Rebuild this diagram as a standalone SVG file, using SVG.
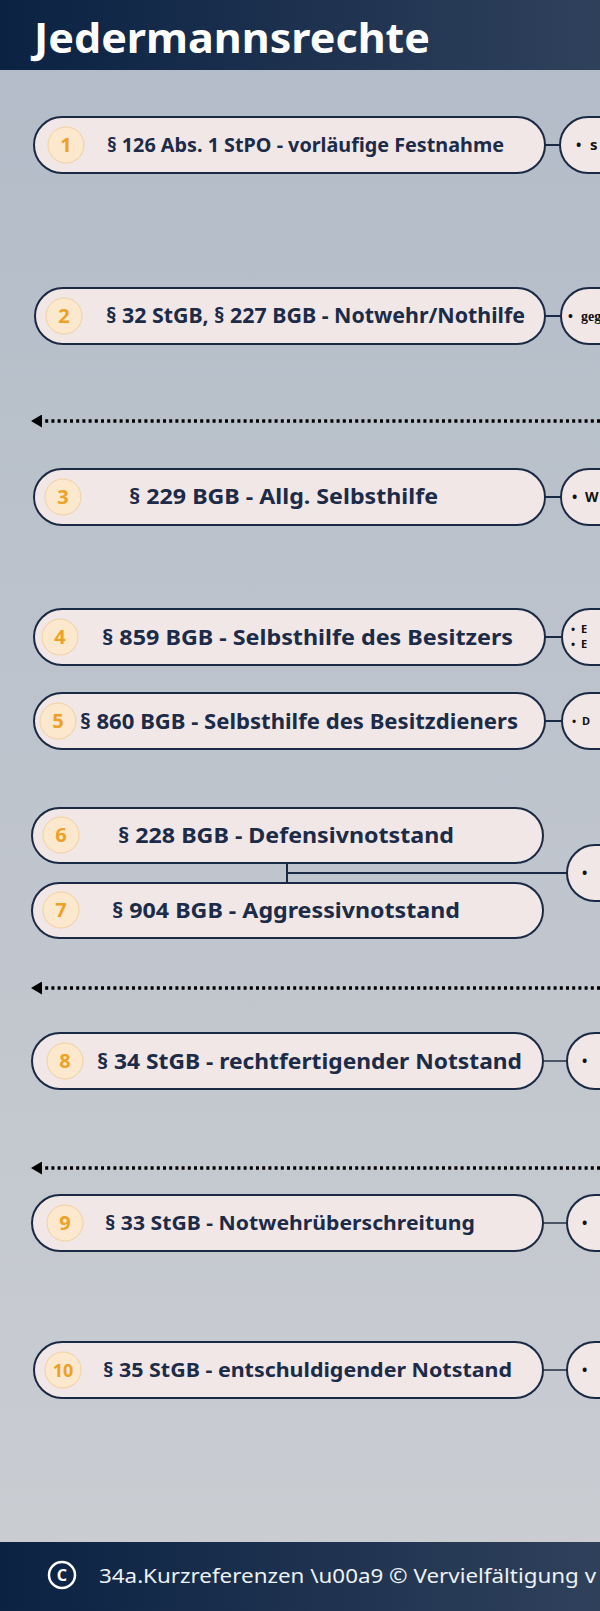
<svg xmlns="http://www.w3.org/2000/svg" width="600" height="1611" viewBox="0 0 600 1611">
<defs>
<linearGradient id="bg" x1="0" y1="0" x2="0" y2="1">
<stop offset="0" stop-color="#b2bcc8"/>
<stop offset="1" stop-color="#cbcdd2"/>
</linearGradient>
<linearGradient id="bar" x1="0" y1="0" x2="1" y2="0">
<stop offset="0" stop-color="#0b2243"/>
<stop offset="1" stop-color="#2f415b"/>
</linearGradient>
<marker id="ah" viewBox="0 0 11 13" refX="0" refY="6.5" markerWidth="11" markerHeight="13" markerUnits="userSpaceOnUse" orient="auto">
<path d="M0,0 L11,6.5 L0,13 Z" fill="#000"/>
</marker>
<style>
.pill{fill:#f1e7e7;stroke:#1a2a44;stroke-width:2}
.nc{fill:#fce8cc;stroke:#f2d09e;stroke-width:1}
.num{font-family:"Noto Sans","Liberation Sans",sans-serif;font-weight:700;font-size:20px;fill:#eda126;text-anchor:middle}
.lbl{font-family:"Noto Sans","Liberation Sans",sans-serif;font-weight:700;font-size:21px;fill:#1b2b48}
.bt{font-family:"Noto Sans","Liberation Sans",sans-serif;font-weight:700;font-size:14px;fill:#111}
.con{stroke:#1a2a44;stroke-width:2;fill:none}
.con2{stroke:#4a5566;stroke-width:2;fill:none}
.dot{stroke:#000;stroke-width:3.5;stroke-dasharray:3 3.2;fill:none}
</style>
</defs>
<rect x="0" y="0" width="600" height="1611" fill="url(#bg)"/>
<g id="header">
<rect x="0" y="0" width="600" height="70" fill="url(#bar)"/>
<text x="34" y="53" font-family="Noto Sans, Liberation Sans, sans-serif" font-weight="700" font-size="42" fill="#fff" textLength="396" lengthAdjust="spacingAndGlyphs">Jedermannsrechte</text>
</g>
<g id="connectors">
<line class="con" x1="545" y1="145" x2="560" y2="145"/>
<line class="con" x1="545" y1="316" x2="561" y2="316"/>
<line class="con" x1="545" y1="497" x2="561" y2="497"/>
<line class="con" x1="545" y1="637" x2="562" y2="637"/>
<line class="con" x1="545" y1="721" x2="562" y2="721"/>
<line class="con" x1="287" y1="863" x2="287" y2="883"/>
<line class="con" x1="287" y1="873" x2="567" y2="873"/>
<line class="con2" x1="543" y1="1061" x2="567" y2="1061"/>
<line class="con2" x1="543" y1="1223" x2="567" y2="1223"/>
<line class="con2" x1="543" y1="1370" x2="567" y2="1370"/>
<line class="dot" x1="600" y1="421" x2="42" y2="421" marker-end="url(#ah)"/>
<line class="dot" x1="600" y1="988" x2="42" y2="988" marker-end="url(#ah)"/>
<line class="dot" x1="600" y1="1168" x2="42" y2="1168" marker-end="url(#ah)"/>
</g>
<g id="node1">
<rect class="pill" x="34" y="117" width="511" height="56" rx="28"/>
<circle class="nc" cx="66" cy="145" r="18"/>
<text class="num" x="66" y="152">1</text>
<text class="lbl" x="107" y="152" style="font-size:19px" textLength="397" lengthAdjust="spacingAndGlyphs">§ 126 Abs. 1 StPO - vorläufige Festnahme</text>
</g>
<g id="detail1">
<rect class="pill" x="560" y="117" width="120" height="56" rx="28"/>
<text class="bt" y="150"><tspan x="576">•</tspan><tspan x="590" style="font-size:15px">s</tspan></text>
</g>
<g id="node2">
<rect class="pill" x="35" y="288" width="510" height="56" rx="28"/>
<circle class="nc" cx="64" cy="316" r="18"/>
<text class="num" x="64" y="323">2</text>
<text class="lbl" x="106" y="323" textLength="419" lengthAdjust="spacingAndGlyphs">§ 32 StGB, § 227 BGB - Notwehr/Nothilfe</text>
</g>
<g id="detail2">
<rect class="pill" x="561" y="288" width="120" height="56" rx="28"/>
<text class="bt" y="321" style="font-family:'Liberation Serif',serif"><tspan x="568">•</tspan><tspan x="581">geg</tspan></text>
</g>
<g id="node3">
<rect class="pill" x="34" y="469" width="511" height="56" rx="28"/>
<circle class="nc" cx="63" cy="497" r="18"/>
<text class="num" x="63" y="504">3</text>
<text class="lbl" x="129" y="504" textLength="309" lengthAdjust="spacingAndGlyphs">§ 229 BGB - Allg. Selbsthilfe</text>
</g>
<g id="detail3">
<rect class="pill" x="561" y="469" width="120" height="56" rx="28"/>
<text class="bt" y="502"><tspan x="572">•</tspan><tspan x="585">W</tspan></text>
</g>
<g id="node4">
<rect class="pill" x="34" y="609" width="511" height="56" rx="28"/>
<circle class="nc" cx="60" cy="637" r="18"/>
<text class="num" x="60" y="644">4</text>
<text class="lbl" x="102" y="645" textLength="411" lengthAdjust="spacingAndGlyphs">§ 859 BGB - Selbsthilfe des Besitzers</text>
</g>
<g id="detail4">
<rect class="pill" x="562" y="609" width="120" height="56" rx="28"/>
<text class="bt" style="font-size:11px" y="633"><tspan x="571">•</tspan><tspan x="581">E</tspan></text>
<text class="bt" style="font-size:11px" y="648"><tspan x="571">•</tspan><tspan x="581">E</tspan></text>
</g>
<g id="node5">
<rect class="pill" x="34" y="693" width="511" height="56" rx="28"/>
<circle class="nc" cx="58" cy="721" r="18"/>
<text class="num" x="58" y="728">5</text>
<text class="lbl" x="80" y="729" textLength="438" lengthAdjust="spacingAndGlyphs">§ 860 BGB - Selbsthilfe des Besitzdieners</text>
</g>
<g id="detail5">
<rect class="pill" x="562" y="693" width="120" height="56" rx="28"/>
<text class="bt" style="font-size:11px" y="725"><tspan x="572">•</tspan><tspan x="582">D</tspan></text>
</g>
<g id="node6">
<rect class="pill" x="32" y="808" width="511" height="55" rx="27.5"/>
<circle class="nc" cx="61" cy="835" r="18"/>
<text class="num" x="61" y="842">6</text>
<text class="lbl" x="118" y="843" textLength="336" lengthAdjust="spacingAndGlyphs">§ 228 BGB - Defensivnotstand</text>
</g>
<g id="node7">
<rect class="pill" x="32" y="883" width="511" height="55" rx="27.5"/>
<circle class="nc" cx="61" cy="910" r="18"/>
<text class="num" x="61" y="917">7</text>
<text class="lbl" x="112" y="918" textLength="348" lengthAdjust="spacingAndGlyphs">§ 904 BGB - Aggressivnotstand</text>
</g>
<g id="detail67">
<rect class="pill" x="567" y="845" width="120" height="56" rx="28"/>
<text class="bt" x="582" y="878">•</text>
</g>
<g id="node8">
<rect class="pill" x="32" y="1033" width="511" height="56" rx="28"/>
<circle class="nc" cx="65" cy="1061" r="18"/>
<text class="num" x="65" y="1068">8</text>
<text class="lbl" x="97" y="1069" textLength="425" lengthAdjust="spacingAndGlyphs">§ 34 StGB - rechtfertigender Notstand</text>
</g>
<g id="detail8">
<rect class="pill" x="567" y="1033" width="120" height="56" rx="28"/>
<text class="bt" x="582" y="1066">•</text>
</g>
<g id="node9">
<rect class="pill" x="32" y="1195" width="511" height="56" rx="28"/>
<circle class="nc" cx="65" cy="1223" r="18"/>
<text class="num" x="65" y="1230">9</text>
<text class="lbl" x="105" y="1230" style="font-size:19px" textLength="370" lengthAdjust="spacingAndGlyphs">§ 33 StGB - Notwehrüberschreitung</text>
</g>
<g id="detail9">
<rect class="pill" x="567" y="1195" width="120" height="56" rx="28"/>
<text class="bt" x="582" y="1228">•</text>
</g>
<g id="node10">
<rect class="pill" x="34" y="1342" width="509" height="56" rx="28"/>
<circle class="nc" cx="63" cy="1370" r="18"/>
<text class="num" x="63" y="1377" style="font-size:18px">10</text>
<text class="lbl" x="103" y="1377" style="font-size:20px" textLength="409" lengthAdjust="spacingAndGlyphs">§ 35 StGB - entschuldigender Notstand</text>
</g>
<g id="detail10">
<rect class="pill" x="567" y="1342" width="120" height="56" rx="28"/>
<text class="bt" x="582" y="1375">•</text>
</g>
<g id="footer">
<rect x="0" y="1542" width="600" height="69" fill="url(#bar)"/>
<circle cx="62" cy="1575" r="13" fill="none" stroke="#fff" stroke-width="2.5"/>
<text x="62" y="1581" font-family="Noto Sans, Liberation Sans, sans-serif" font-weight="700" font-size="16" fill="#fff" text-anchor="middle">C</text>
<text x="99" y="1583" font-family="Noto Sans, Liberation Sans, sans-serif" font-size="20" fill="#eef1f5" textLength="497" lengthAdjust="spacingAndGlyphs">34a.Kurzreferenzen \u00a9 © Vervielfältigung v</text>
</g>
</svg>
